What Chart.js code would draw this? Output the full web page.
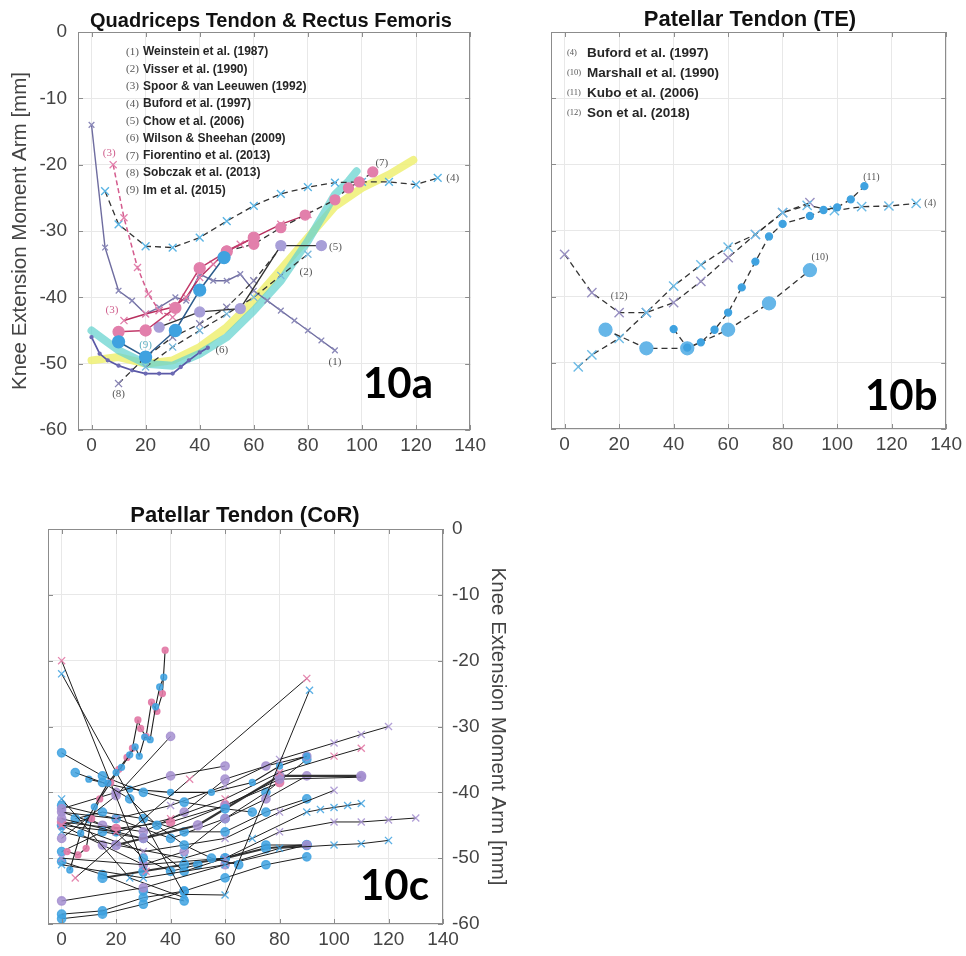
<!DOCTYPE html>
<html>
<head>
<meta charset="utf-8">
<script src="https://cdn.jsdelivr.net/npm/chart.js@4.4.1/dist/chart.umd.min.js"></script>
<style>
  html, body { margin: 0; padding: 0; background: #fff; }
  body { width: 966px; height: 956px; position: relative; overflow: hidden; }
  .panel { position: absolute; overflow: hidden; }
</style>
</head>
<body>
<div class="panel" style="left:0;top:0;width:490px;height:462px"><canvas id="qt" width="490" height="462"></canvas></div>
<div class="panel" style="left:500px;top:0;width:466px;height:462px"><canvas id="te" width="466" height="462"></canvas></div>
<div class="panel" style="left:0;top:470px;width:520px;height:486px"><canvas id="cor" width="520" height="486"></canvas></div>
<script>
// axes
const xTicks = [0, 20, 40, 60, 80, 100, 120, 140];
const yTicks = [0, -10, -20, -30, -40, -50, -60];

// 10a  Quadriceps tendon & rectus femoris
const qtLegendNums = ['(1)', '(2)', '(3)', '(4)', '(5)', '(6)', '(7)', '(8)', '(9)'];
const qtLegendNames = ['Weinstein et al. (1987)', 'Visser et al. (1990)', 'Spoor & van Leeuwen (1992)',
  'Buford et al. (1997)', 'Chow et al. (2006)', 'Wilson & Sheehan (2009)', 'Fiorentino et al. (2013)',
  'Sobczak et al. (2013)', 'Im et al. (2015)'];
const weinsteinX = [0, 5, 10, 15, 20, 25, 31, 35, 40, 45, 50, 55, 60, 65, 70, 75, 80, 85, 90];
const weinsteinY = [-14, -32.5, -39, -40.5, -42.5, -41.5, -40, -40.5, -36.5, -37.5, -37.5, -36.5, -39, -40.5, -42, -43.5, -45, -46.5, -48];
const visserX = [20, 30, 40, 50, 60, 70, 80];
const visserY = [-50.5, -47.5, -45, -42.5, -40, -36.7, -33.5];
const spoorDashX = [8, 12, 17, 21, 25, 30];
const spoorDashY = [-20, -28, -35.5, -39.5, -42, -43];
const spoorX = [12, 20, 25, 30, 35, 40, 45, 50, 55, 60, 70, 80];
const spoorY = [-43.5, -42.5, -42, -41.5, -40, -37, -35, -33, -32, -31, -29, -27.5];
const bufordQtX = [5, 10, 20, 30, 40, 50, 60, 70, 80, 90, 100, 110, 120, 128];
const bufordQtY = [-24, -29, -32.3, -32.5, -31, -28.5, -26.2, -24.4, -23.4, -22.7, -22.6, -22.6, -23, -22];
const chowX = [25, 40, 55, 70, 85];
const chowY = [-44.5, -42.2, -41.7, -32.2, -32.2];
const wilsonX = [0, 3, 6, 10, 15, 20, 25, 30, 33, 36, 40, 43];
const wilsonY = [-46, -48.5, -49.5, -50.3, -51, -51.5, -51.5, -51.5, -50.5, -49.5, -48.3, -47.6];
const fiorentinoX = [50, 60, 70, 79, 90, 95, 99, 104];
const fiorentinoY = [-33, -32, -29.5, -27.6, -25.3, -23.5, -22.6, -21.1];
const sobczakX = [10, 20, 30, 40, 50, 60, 70];
const sobczakY = [-53, -49, -46, -44, -41.5, -37.5, -32.5];
const imBlueX = [10, 20, 31, 40, 49];
const imBlueY = [-46.7, -49, -45, -38.9, -34];
const imPinkX = [10, 20, 31, 40, 50, 60];
const imPinkY = [-45.2, -45, -41.6, -35.6, -33.1, -31];
const bandTealX = [0, 5, 10, 20, 30, 40, 50, 60, 70, 80, 90, 95, 98];
const bandTealY = [-45, -46.5, -48, -50, -50.3, -48.5, -46, -42, -37.5, -31.5, -24.5, -22.5, -21];
const bandYellowX = [0, 10, 20, 30, 40, 50, 60, 70, 80, 90, 100, 110, 119];
const bandYellowY = [-49.5, -49, -50, -49.5, -47.5, -44.5, -40.5, -35.8, -31, -26.3, -23.5, -21.5, -19.3];

// 10b  Patellar tendon (TE)
const teLegendNums = ['(4)', '(10)', '(11)', '(12)'];
const teLegendNames = ['Buford et al. (1997)', 'Marshall et al. (1990)', 'Kubo et al. (2006)', 'Son et al. (2018)'];
const bufordTeX = [5, 10, 20, 30, 40, 50, 60, 70, 80, 89, 99, 109, 119, 129];
const bufordTeY = [-50.6, -48.8, -46.3, -42.4, -38.4, -35.2, -32.5, -30.6, -27.3, -26.2, -27, -26.4, -26.3, -25.9];
const sonX = [0, 10, 20, 30, 40, 50, 60, 70, 80, 90];
const sonY = [-33.6, -39.4, -42.4, -42.4, -40.9, -37.7, -34.1, -30.6, -27.3, -25.8];
const marshallX = [15, 30, 45, 60, 75, 90];
const marshallY = [-45, -47.8, -47.8, -45, -41, -36];
const kuboX = [40, 45, 50, 55, 60, 65, 70, 75, 80, 90, 95, 100, 105, 110];
const kuboY = [-44.9, -47.7, -46.9, -45, -42.4, -38.6, -34.7, -30.9, -29, -27.8, -26.9, -26.5, -25.3, -23.3];

// 10c  Patellar tendon (CoR), one array pair per subject curve
const cor01X = [0, 31];                         const cor01Y = [-20, -52];
const cor02X = [0, 45, 60, 91];                 const cor02Y = [-22, -55.5, -55.6, -24.5];
const cor03X = [5, 47, 90];                     const cor03Y = [-53, -38, -22.7];
const cor04X = [2, 6, 9, 11, 14, 18, 21, 24, 26, 28, 29, 31, 33, 35, 37, 38];
const cor04Y = [-49, -49.5, -48.5, -44, -41, -38.5, -36.5, -34.7, -33.3, -29, -30.3, -31.5, -26.3, -27.7, -25, -18.4];
const cor05X = [3, 7, 12, 17, 20, 22, 25, 27, 28.5, 30.5, 32.5, 34.5, 36, 37.5];
const cor05Y = [-51.8, -46.2, -42.2, -38.6, -37, -36.2, -34.3, -33.1, -34.5, -31.6, -32, -27, -24, -22.5];
const cor06X = [0, 15, 30, 45, 60, 70];         const cor06Y = [-34, -37.5, -40, -41.5, -42.5, -43];
const cor07X = [5, 15, 25, 35, 45, 55, 65];     const cor07Y = [-37, -38.5, -41, -45, -48, -50, -51];
const cor08X = [0, 20, 40];                     const cor08Y = [-47, -40.5, -31.5];
const cor09X = [0, 20, 40, 60];                 const cor09Y = [-42.5, -40, -37.5, -36];
const cor10X = [10, 25, 40, 55, 70, 80, 90];    const cor10Y = [-38, -39.5, -40, -40, -38.5, -36, -34.5];
const cor11X = [0, 20, 40, 60, 80, 100, 110, 120]; const cor11Y = [-43, -44, -42, -39, -35, -32.5, -31.2, -30];
const cor12X = [0, 20, 40, 60, 80, 100, 110];   const cor12Y = [-45, -46, -44, -41, -37, -34.5, -33.3];
const cor13X = [0, 30, 60, 80, 110];            const cor13Y = [-44, -47, -42, -38, -37.7];
const cor14X = [20, 50, 80, 110];               const cor14Y = [-48, -45, -37.5, -37.5];
const cor15X = [0, 30, 60, 80, 100];            const cor15Y = [-44.5, -49, -47, -43, -39.7];
const cor16X = [0, 20, 45, 70, 90, 95, 100, 105, 110]; const cor16Y = [-46, -48, -50, -47, -43, -42.6, -42.3, -42, -41.7];
const cor17X = [0, 30, 60, 80, 100, 110, 120, 130]; const cor17Y = [-50, -51, -50, -46, -44.5, -44.5, -44.2, -43.9];
const cor18X = [0, 30, 60, 80, 100, 110, 120];  const cor18Y = [-51, -53, -51, -48.5, -48, -47.8, -47.3];
const cor19X = [0, 15, 30, 45, 60, 75, 90];     const cor19Y = [-58.5, -58, -56, -55, -53, -51, -49.8];
const cor20X = [0, 15, 30, 45];                 const cor20Y = [-59.2, -58.5, -57, -55];
const cor21X = [0, 30, 60, 90];                 const cor21Y = [-56.5, -54.5, -51, -48];
const cor22X = [0, 15, 30, 45];                 const cor22Y = [-50.5, -52.5, -55, -56.5];
const cor23X = [0, 15, 30, 45, 60, 75, 90];     const cor23Y = [-49, -46, -47, -52, -50, -48, -48];
const cor24X = [0, 25, 45];                     const cor24Y = [-41, -53, -56];
const cor25X = [5, 15, 30, 45, 60, 75, 90];     const cor25Y = [-44, -43, -44, -46, -46, -43, -41];
const cor26X = [0, 20, 40, 60, 80];             const cor26Y = [-44.5, -45.5, -44.5, -42, -38.5];
const cor27X = [0, 15, 30, 45, 60, 75, 90];     const cor27Y = [-43, -45, -46, -43, -38, -36, -34.5];
const cor28X = [0, 10, 20, 30, 40, 50];         const cor28Y = [-45, -44, -46, -50, -52, -51];
const cor29X = [15, 30, 45, 60, 75, 90];        const cor29Y = [-53, -52, -51, -50, -48.5, -48];
const cor30X = [0, 15, 30, 45, 60, 75, 90];     const cor30Y = [-45, -48, -51, -49, -44, -41, -37.5];
const cor31X = [0, 20, 40, 60, 75, 90];         const cor31Y = [-42, -44, -47, -44, -40, -35];

const FONT = 'Liberation Sans, Arial, sans-serif';
const DARK = '#333333';
const DASH = [6, 4];

function series(xs, ys, o) {
  return {
    data: xs.map((x, i) => ({ x, y: ys[i] })),
    borderColor: o.line,
    borderWidth: o.w ?? 1.3,
    borderDash: o.dash || [],
    borderCapStyle: o.cap || 'butt',
    borderJoinStyle: 'round',
    pointStyle: o.shape || 'circle',
    pointRadius: o.r ?? 4,
    pointBackgroundColor: o.shape === 'crossRot' ? 'transparent' : (o.mark || 'transparent'),
    pointBorderColor: o.mark || 'transparent',
    pointBorderWidth: o.mw ?? 1.3,
    tension: 0,
    fill: false
  };
}

function band(xs, ys, color) {
  return series(xs, ys, { line: color, w: 8, r: 0, cap: 'round' });
}

function xScale(h) {
  return {
    type: 'linear', min: -5, max: 140,
    afterBuildTicks: s => { s.ticks = xTicks.map(v => ({ value: v })); },
    afterFit: s => { s.height = h; },
    grid: { color: '#e8e8e8', drawTicks: false },
    border: { display: false },
    ticks: { padding: 4, color: '#444', maxRotation: 0, autoSkip: false, font: { family: FONT, size: 19 } }
  };
}

function yScale(pos, w, labels, title, titlePad) {
  return {
    type: 'linear', min: -60, max: 0, position: pos,
    afterBuildTicks: s => { s.ticks = yTicks.map(v => ({ value: v })); },
    afterFit: s => { s.width = w; },
    grid: { color: '#e8e8e8', drawTicks: false },
    border: { display: false },
    ticks: { display: labels, padding: pos === 'left' ? 11 : 9, color: '#444', font: { family: FONT, size: 19 } },
    title: { display: !!title, text: title, color: '#444', padding: { top: titlePad, bottom: 0 }, font: { family: FONT, size: 20.5 } }
  };
}

function frame(cfg) {
  return {
    id: 'frame',
    afterDraw(chart) {
      const { ctx, chartArea: a } = chart;
      const x = chart.scales.x, y = chart.scales.y;
      ctx.save();
      ctx.strokeStyle = '#8c8c8c';
      ctx.lineWidth = 1;
      ctx.beginPath();
      xTicks.forEach(v => {
        const p = Math.round(x.getPixelForValue(v)) + 0.5;
        ctx.moveTo(p, a.bottom); ctx.lineTo(p, a.bottom - 5);
        ctx.moveTo(p, a.top); ctx.lineTo(p, a.top + 5);
      });
      yTicks.forEach(v => {
        const p = Math.round(y.getPixelForValue(v)) + 0.5;
        ctx.moveTo(a.left, p); ctx.lineTo(a.left + 5, p);
        ctx.moveTo(a.right, p); ctx.lineTo(a.right - 5, p);
      });
      ctx.stroke();
      ctx.strokeRect(Math.round(a.left) + 0.5, Math.round(a.top) + 0.5, Math.round(a.width) - 1, Math.round(a.height) - 1);

      ctx.fillStyle = '#111';
      ctx.textAlign = 'center';
      ctx.textBaseline = 'alphabetic';
      ctx.font = `bold ${cfg.titleSize}px ${FONT}`;
      ctx.fillText(cfg.title, cfg.titleX, cfg.titleY);

      // study list
      if (cfg.names) {
        ctx.textBaseline = 'middle';
        cfg.names.forEach((name, i) => {
          const ly = a.top + cfg.legTop + i * cfg.legStep;
          ctx.textAlign = 'left';
          ctx.fillStyle = '#555';
          ctx.font = `${cfg.numSize}px Liberation Serif, serif`;
          ctx.fillText(cfg.nums[i], a.left + cfg.numX, ly);
          ctx.fillStyle = '#262626';
          ctx.font = `bold ${cfg.legSize}px ${FONT}`;
          ctx.fillText(name, a.left + cfg.nameX, ly);
        });
      }

      // curve tags
      ctx.textAlign = 'center';
      ctx.textBaseline = 'middle';
      ctx.font = `${cfg.tagSize}px Liberation Serif, serif`;
      (cfg.tags || []).forEach(t => {
        const i = t.i < 0 ? t.xs.length - 1 : t.i;
        ctx.fillStyle = t.color || '#555';
        ctx.fillText(t.text, x.getPixelForValue(t.xs[i]) + t.dx, y.getPixelForValue(t.ys[i]) + t.dy);
      });

      ctx.fillStyle = '#000';
      ctx.textAlign = 'left';
      ctx.textBaseline = 'alphabetic';
      ctx.font = 'bold 42px Lato, "Open Sans", sans-serif';
      ctx.fillText(cfg.panel, cfg.panelX, cfg.panelY);
      ctx.restore();
    }
  };
}

const common = {
  responsive: false,
  animation: false,
  devicePixelRatio: 1,
  events: [],
  plugins: { legend: { display: false }, tooltip: { enabled: false } }
};

// ---------- 10a ----------
const PINK = '#e27fab', CYAN = '#5ab4e4', BLUE = '#3fa2e0', LAV = '#a89fd8';
new Chart(document.getElementById('qt'), {
  type: 'line',
  data: {
    datasets: [
      series(imBlueX, imBlueY, { line: '#2d5c8c', w: 1.5, mark: BLUE, r: 6 }),
      series(imPinkX, imPinkY, { line: '#c23a6a', w: 1.5, mark: PINK, r: 5.5 }),
      series(chowX, chowY, { line: DARK, w: 1.4, mark: LAV, r: 5 }),
      series(fiorentinoX, fiorentinoY, { line: DARK, dash: DASH, mark: PINK, r: 5 }),
      series(spoorX, spoorY, { line: '#b8305f', w: 1.5, shape: 'crossRot', mark: PINK, r: 5 }),
      series(spoorDashX, spoorDashY, { line: '#d45c8e', w: 1.5, dash: [5, 3], shape: 'crossRot', mark: PINK, r: 5 }),
      series(bufordQtX, bufordQtY, { line: DARK, dash: DASH, shape: 'crossRot', mark: CYAN, r: 5.5, mw: 1.4 }),
      series(visserX, visserY, { line: DARK, dash: DASH, shape: 'crossRot', mark: '#78b8dc', r: 5 }),
      series(sobczakX, sobczakY, { line: DARK, dash: DASH, shape: 'crossRot', mark: '#8884b4', r: 5 }),
      series(weinsteinX, weinsteinY, { line: '#6f6da0', w: 1.4, shape: 'crossRot', mark: '#8a88b8', r: 4 }),
      series(wilsonX, wilsonY, { line: '#5a58a6', w: 1.7, mark: '#6c6ab4', r: 1.5 }),
      band(bandTealX, bandTealY, 'rgba(105,212,208,0.75)'),
      band(bandYellowX, bandYellowY, 'rgba(238,240,115,0.85)')
    ]
  },
  options: {
    ...common,
    layout: { padding: { top: 32, right: 17, left: 0, bottom: 0 } },
    scales: { x: xScale(32), y: yScale('left', 78, true, 'Knee Extension Moment Arm [mm]', 8) }
  },
  plugins: [frame({
    title: 'Quadriceps Tendon & Rectus Femoris', titleSize: 20, titleX: 271, titleY: 27,
    nums: qtLegendNums, names: qtLegendNames, legTop: 20, legStep: 17.3, numX: 48, nameX: 65, numSize: 11, legSize: 12,
    tagSize: 11,
    tags: [
      { text: '(1)', xs: weinsteinX, ys: weinsteinY, i: -1, dx: 0, dy: 12 },
      { text: '(2)', xs: visserX, ys: visserY, i: -1, dx: -2, dy: 18 },
      { text: '(3)', xs: spoorDashX, ys: spoorDashY, i: 0, dx: -4, dy: -12, color: '#d0608e' },
      { text: '(3)', xs: spoorX, ys: spoorY, i: 0, dx: -12, dy: -10, color: '#d0608e' },
      { text: '(4)', xs: bufordQtX, ys: bufordQtY, i: -1, dx: 15, dy: 0 },
      { text: '(5)', xs: chowX, ys: chowY, i: -1, dx: 14, dy: 2 },
      { text: '(6)', xs: wilsonX, ys: wilsonY, i: -1, dx: 14, dy: 2 },
      { text: '(7)', xs: fiorentinoX, ys: fiorentinoY, i: -1, dx: 9, dy: -9 },
      { text: '(8)', xs: sobczakX, ys: sobczakY, i: 0, dx: 0, dy: 11 },
      { text: '(9)', xs: imBlueX, ys: imBlueY, i: 1, dx: 0, dy: -12, color: '#5fb0c2' }
    ],
    panel: '10a', panelX: 363, panelY: 398
  })]
});

// ---------- 10b ----------
new Chart(document.getElementById('te'), {
  type: 'line',
  data: {
    datasets: [
      series(kuboX, kuboY, { line: DARK, dash: DASH, mark: BLUE, r: 3.5 }),
      series(marshallX, marshallY, { line: DARK, dash: DASH, mark: '#66b6e8', r: 6.5 }),
      series(bufordTeX, bufordTeY, { line: DARK, dash: DASH, shape: 'crossRot', mark: '#6cbbe6', r: 6.5, mw: 1.4 }),
      series(sonX, sonY, { line: DARK, dash: DASH, shape: 'crossRot', mark: '#9890c2', r: 6.5, mw: 1.4 })
    ]
  },
  options: {
    ...common,
    layout: { padding: { top: 32, right: 19, left: 0, bottom: 0 } },
    scales: { x: xScale(33), y: yScale('left', 51, false, '', 0) }
  },
  plugins: [frame({
    title: 'Patellar Tendon (TE)', titleSize: 22, titleX: 250, titleY: 26,
    nums: teLegendNums, names: teLegendNames, legTop: 21, legStep: 20, numX: 16, nameX: 36, numSize: 8.5, legSize: 13.5,
    tagSize: 10,
    tags: [
      { text: '(4)', xs: bufordTeX, ys: bufordTeY, i: -1, dx: 14, dy: 0 },
      { text: '(12)', xs: sonX, ys: sonY, i: 2, dx: 0, dy: -16 },
      { text: '(10)', xs: marshallX, ys: marshallY, i: -1, dx: 10, dy: -13 },
      { text: '(11)', xs: kuboX, ys: kuboY, i: -1, dx: 7, dy: -9 }
    ],
    panel: '10b', panelX: 365, panelY: 410
  })]
});

// ---------- 10c ----------
const CB = 'rgba(63,162,224,0.85)', CP = 'rgba(165,143,208,0.85)', CK = 'rgba(226,122,166,0.9)';
const LINE = '#1e1e1e';
const dot = c => ({ line: LINE, w: 1, mark: c, r: 4.2 });
const cross = c => ({ line: LINE, w: 1, shape: 'crossRot', mark: c, r: 5, mw: 1.3 });
const small = c => ({ line: LINE, w: 1.1, mark: c, r: 3 });
new Chart(document.getElementById('cor'), {
  type: 'line',
  data: {
    datasets: [
      series(cor05X, cor05Y, small(CB)),
      series(cor04X, cor04Y, small(CK)),
      series(cor01X, cor01Y, cross(CK)),
      series(cor02X, cor02Y, cross(CB)),
      series(cor03X, cor03Y, cross(CK)),
      series(cor06X, cor06Y, dot(CB)),
      series(cor07X, cor07Y, dot(CB)),
      series(cor08X, cor08Y, dot(CP)),
      series(cor09X, cor09Y, dot(CP)),
      series(cor10X, cor10Y, small(CB)),
      series(cor11X, cor11Y, cross(CP)),
      series(cor12X, cor12Y, cross(CK)),
      series(cor13X, cor13Y, dot(CP)),
      series(cor14X, cor14Y, { line: '#333', w: 2.2, mark: CP, r: 4.5 }),
      series(cor15X, cor15Y, cross(CP)),
      series(cor16X, cor16Y, cross(CB)),
      series(cor17X, cor17Y, cross(CP)),
      series(cor18X, cor18Y, cross(CB)),
      series(cor19X, cor19Y, dot(CB)),
      series(cor20X, cor20Y, dot(CB)),
      series(cor21X, cor21Y, dot(CP)),
      series(cor22X, cor22Y, dot(CB)),
      series(cor23X, cor23Y, dot(CB)),
      series(cor24X, cor24Y, cross(CB)),
      series(cor25X, cor25Y, dot(CB)),
      series(cor26X, cor26Y, dot(CK)),
      series(cor27X, cor27Y, dot(CP)),
      series(cor28X, cor28Y, dot(CB)),
      series(cor29X, cor29Y, { line: '#333', w: 2, mark: CB, r: 4.5 }),
      series(cor30X, cor30Y, dot(CP)),
      series(cor31X, cor31Y, dot(CB))
    ]
  },
  options: {
    ...common,
    layout: { padding: { top: 59, right: 0, left: 48, bottom: 0 } },
    scales: { x: xScale(32), y: yScale('right', 77, true, 'Knee Extension Moment Arm [mm]', 10) }
  },
  plugins: [frame({
    title: 'Patellar Tendon (CoR)', titleSize: 22, titleX: 245, titleY: 52,
    tagSize: 10, tags: [],
    panel: '10c', panelX: 360, panelY: 430
  })]
});
</script>
</body>
</html>
